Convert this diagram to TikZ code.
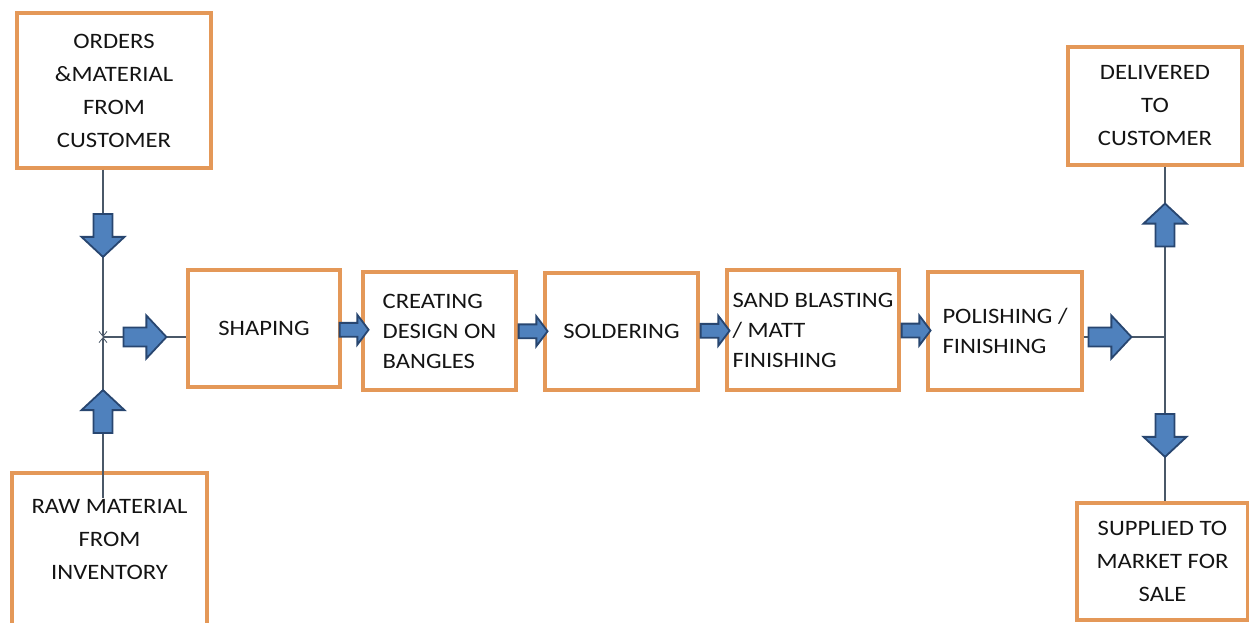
\documentclass[tikz,border=0pt]{standalone}
\usepackage{fontspec}
\setmainfont{Carlito}[FakeStretch=1.12]
\usepackage{tikz}
\usetikzlibrary{positioning,arrows.meta,shapes.arrows,calc}
\definecolor{boxorange}{RGB}{228,152,88}
\definecolor{arrblue}{RGB}{79,129,189}
\definecolor{arredge}{RGB}{40,70,112}
\definecolor{linegray}{RGB}{74,88,104}
\definecolor{txtgray}{RGB}{20,20,20}
\tikzset{
  box/.style      = {draw=boxorange, line width=3.2pt, align=center, text=txtgray, inner sep=0pt,
                     font=\fontsize{22}{33}\selectfont},
  lbox/.style     = {box, align=left, font=\fontsize{22}{30}\selectfont},
  link/.style     = {draw=linegray, line width=1.1pt},
  barb/.style     = {-{Straight Barb[length=5pt,width=8pt,line width=0.8pt]}},
  fat/.style      = {single arrow, draw=arredge, fill=arrblue, line width=1.8pt, inner xsep=0pt,
                     text height=0pt, text depth=0pt},
  bigarr/.style   = {fat, inner ysep=8.6pt, single arrow head extend=12pt, minimum height=43pt, single arrow tip angle=94},
  smallarr/.style = {fat, inner ysep=6pt, single arrow head extend=8pt, minimum height=29pt, single arrow tip angle=106},
}
\begin{document}
\begin{tikzpicture}[x=1pt,y=1pt]
  \useasboundingbox (0,0) rectangle (1249,622);
  \clip (0,0) rectangle (1249,622);
  % inputs
  \node[box, minimum width=194pt, minimum height=155pt] (orders) at (114,531.5) {ORDERS\\\&MATERIAL\\FROM\\CUSTOMER};
  \node[box, minimum width=195pt, minimum height=175pt, text depth=43pt] (raw) at (109.5,61.5) {RAW MATERIAL\\FROM\\INVENTORY};
  % process chain
  \node[box, minimum width=152pt, minimum height=117pt] (shaping) at (264,293.5) {SHAPING};
  \node[lbox, minimum width=153pt, minimum height=118pt] (creating) at (439.5,291) {CREATING\\DESIGN ON\\BANGLES};
  \node[box, minimum width=153pt, minimum height=117pt] (soldering) at (621.5,290.5) {SOLDERING};
  \node[lbox, minimum width=172pt, minimum height=120pt] (sand) at (813,292) {SAND BLASTING\\/ MATT\\FINISHING};
  \node[lbox, minimum width=154pt, minimum height=118pt] (polishing) at (1005,291) {POLISHING /\\FINISHING};
  % outputs
  \node[box, minimum width=174pt, minimum height=118pt] (delivered) at (1155,516) {DELIVERED\\TO\\CUSTOMER};
  \node[box, minimum width=171pt, minimum height=117pt] (supplied) at (1162.5,60.5) {SUPPLIED TO\\MARKET FOR\\SALE};
  % junctions
  \coordinate (lj) at (103,285);
  \coordinate (rj) at (1165,285);
  \draw[link, barb] (orders.south -| lj) -- (lj);
  \draw[link, barb] ($(raw.north -| lj)+(0,-27)$) -- (lj);
  \draw[link] (lj) -- (lj -| shaping.west);
  \draw[link] (rj -| polishing.east) -- (rj);
  \draw[link] (delivered.south -| rj) -- (supplied.north -| rj);
  % block arrows
  \node[bigarr, rotate=-90] (inorders) at (103,391) {};
  \node[bigarr, rotate=90] (inraw) at (103,206) {};
  \node[bigarr] (injoin) at (140.5,285) {};
  \path (shaping.east) -- node[smallarr] (s1) {} (creating.west);
  \path (creating.east) -- node[smallarr] (s2) {} (soldering.west);
  \path (soldering.east) -- node[smallarr] (s3) {} (sand.west);
  \path (sand.east) -- node[smallarr] (s4) {} (polishing.west);
  \node[bigarr] (outjoin) at (1105.5,285) {};
  \node[bigarr, rotate=90] (todelivered) at (1165,392.5) {};
  \node[bigarr, rotate=-90] (tosupplied) at (1165,191) {};
\end{tikzpicture}
\end{document}
